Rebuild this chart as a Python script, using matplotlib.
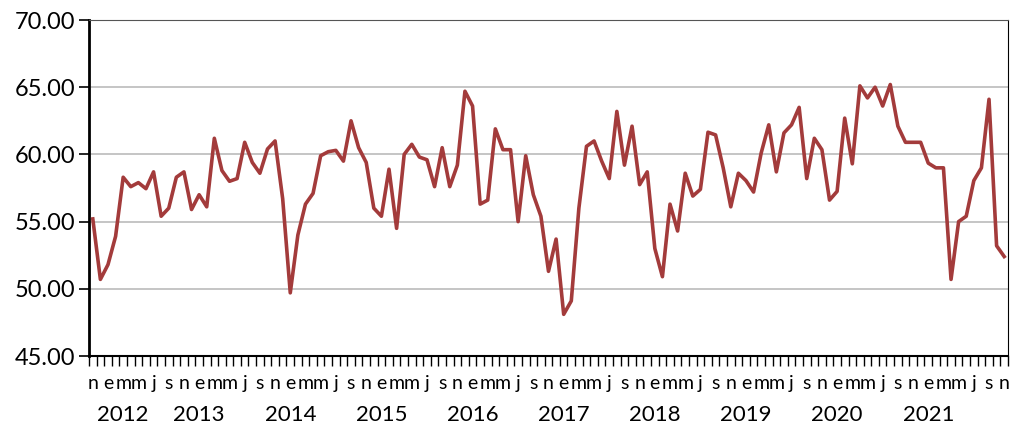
import numpy as np
import matplotlib.pyplot as plt
from matplotlib.ticker import FixedLocator, NullFormatter
import matplotlib.transforms as mtransforms

# Serie mensual, nov 2011 - nov 2021
valores = [
    55.2, 50.7, 51.8, 53.9, 58.3, 57.6, 57.9, 57.45, 58.7, 55.4,
    56.0, 58.3, 58.7, 55.9, 57.0, 56.1, 61.2, 58.8, 58.0, 58.2,
    60.9, 59.4, 58.6, 60.4, 61.0, 56.7, 49.7, 54.0, 56.3, 57.1,
    59.9, 60.2, 60.3, 59.5, 62.5, 60.5, 59.4, 56.0, 55.4, 58.9,
    54.5, 60.0, 60.75, 59.8, 59.6, 57.6, 60.5, 57.6, 59.2, 64.7,
    63.6, 56.3, 56.6, 61.9, 60.35, 60.35, 55.0, 59.9, 57.0, 55.4,
    51.3, 53.7, 48.1, 49.1, 56.0, 60.6, 61.0, 59.5, 58.2, 63.2,
    59.2, 62.1, 57.75, 58.7, 53.0, 50.9, 56.3, 54.3, 58.6, 56.9,
    57.4, 61.65, 61.45, 59.0, 56.1, 58.6, 58.05, 57.2, 60.1, 62.2,
    58.7, 61.6, 62.2, 63.5, 58.2, 61.2, 60.35, 56.6, 57.25, 62.7,
    59.3, 65.1, 64.2, 65.0, 63.6, 65.2, 62.1, 60.9, 60.9, 60.9,
    59.35, 59.0, 59.0, 50.7, 55.0, 55.4, 58.05, 59.0, 64.1, 53.2,
    52.4,
]
letras_mes = ['n', 'e', 'm', 'm', 'j', 's']
anios = ['2012', '2013', '2014', '2015', '2016', '2017', '2018', '2019', '2020', '2021']
pos_anios = [4, 14, 26, 38, 50, 62, 74, 86, 98, 110]

plt.rcParams['font.family'] = ['Lato', 'DejaVu Sans']

n = len(valores)
x = np.arange(n)

fig = plt.figure(figsize=(10.11, 4.29), dpi=100)
ax = fig.add_axes([89 / 1011, 1 - 356 / 429, (1008 - 89) / 1011, (356 - 20) / 429])

ax.plot(x, valores, color='#A33B3B', linewidth=2.6, zorder=3)

ax.set_xlim(-0.5, n - 0.5)
ax.set_ylim(45, 70)
ax.set_yticks(np.arange(45, 70.1, 5))
ax.set_yticklabels([f'{v:.2f}' for v in np.arange(45, 70.1, 5)], fontsize=17)
ax.grid(axis='y', color='#B5B5B5', linewidth=1.1, zorder=0)
ax.set_axisbelow(True)

# etiquetas de mes cada dos meses, marcas en los limites de cada mes
ax.xaxis.set_major_locator(FixedLocator(list(range(0, n, 2))))
ax.set_xticklabels([letras_mes[(i // 2) % 6] for i in range(0, n, 2)], fontsize=14)
ax.xaxis.set_minor_locator(FixedLocator(list(np.arange(-0.5, n, 1))))
ax.xaxis.set_minor_formatter(NullFormatter())
ax.tick_params(axis='x', which='major', length=0, pad=14)
ax.tick_params(axis='x', which='minor', length=7, width=1, color='black')
ax.tick_params(axis='y', length=7, width=1.2, pad=3)

trans = mtransforms.blended_transform_factory(ax.transData, ax.transAxes)
for anio, p in zip(anios, pos_anios):
    ax.text(p, -0.145, anio, transform=trans, ha='center', va='top', fontsize=16)

ax.spines['left'].set_linewidth(2)
ax.spines['bottom'].set_linewidth(1.5)
ax.spines['top'].set_linewidth(0.8)
ax.spines['right'].set_linewidth(0.8)
ax.spines['top'].set_color('#555555')

fig.savefig('out.png', dpi=100)
